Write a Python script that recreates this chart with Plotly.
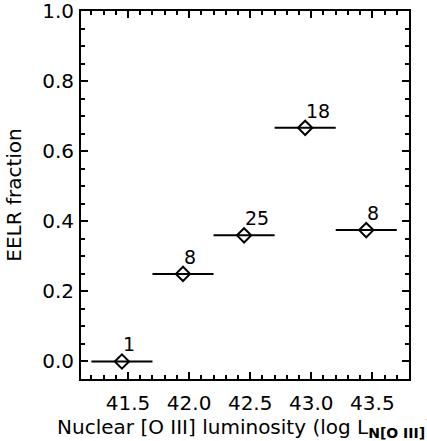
import plotly.graph_objects as go

lum_centers = [41.45, 41.95, 42.45, 42.95, 43.45]
bin_halfwidth = [0.25, 0.25, 0.25, 0.25, 0.25]
eelr_fraction = [0.0, 0.25, 0.36, 0.667, 0.375]
counts = ["1", "8", "25", "18", "8"]
x_tick_vals = [41.5, 42.0, 42.5, 43.0, 43.5]
y_tick_vals = [0.0, 0.2, 0.4, 0.6, 0.8, 1.0]

FONT = "DejaVu Sans"
FS = 20

fig = go.Figure()
fig.add_trace(go.Scatter(
    x=lum_centers, y=eelr_fraction, mode="markers",
    marker=dict(symbol="diamond-open", size=11, color="black", line=dict(width=2, color="black")),
    error_x=dict(type="data", array=bin_halfwidth, symmetric=True, width=0, thickness=2, color="black"),
    showlegend=False, hoverinfo="skip",
))

for x, y, c in zip(lum_centers, eelr_fraction, counts):
    fig.add_annotation(x=x, y=y, text=c, showarrow=False, xanchor="left", yanchor="middle",
                       xshift=-1, yshift=17,
                       font=dict(family=FONT, size=19, color="black"))

axis_common = dict(
    showline=True, linewidth=2, linecolor="black", mirror="ticks",
    ticks="inside", ticklen=7, tickwidth=2, tickcolor="black",
    showgrid=False, zeroline=False, automargin=False, ticklabeloverflow="allow",
    tickfont=dict(family=FONT, size=FS, color="black"),
)

fig.update_xaxes(
    range=[41.115, 43.8], tickvals=x_tick_vals, tickformat=".1f", ticklabelstandoff=5,
    minor=dict(dtick=0.1, tick0=41.0, ticks="inside", ticklen=4, tickwidth=2, tickcolor="black"),
    title=dict(text="Nuclear [O III] luminosity (log L<sub><b>N[O III]</b></sub>)",
               font=dict(family=FONT, size=FS, color="black"), standoff=0),
    **axis_common,
)
fig.update_yaxes(
    range=[-0.05, 1.0005], tickvals=y_tick_vals, tickformat=".1f", ticklabelstandoff=1,
    minor=dict(dtick=0.05, tick0=0.0, ticks="inside", ticklen=4, tickwidth=2, tickcolor="black"),
    title=dict(text="EELR fraction", font=dict(family=FONT, size=FS, color="black"), standoff=15),
    **axis_common,
)

fig.update_layout(
    width=427, height=441,
    margin=dict(l=81, r=18, t=11, b=62, pad=0),
    plot_bgcolor="white", paper_bgcolor="white",
)

fig.write_html("out.html", config={"displayModeBar": False},
               post_script="document.body.style.margin='0';")
